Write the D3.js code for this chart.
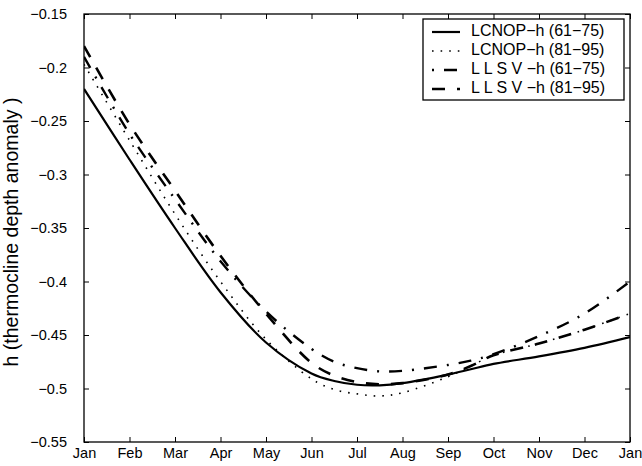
<!DOCTYPE html>
<html>
<head>
<meta charset="utf-8">
<script src="https://cdn.jsdelivr.net/npm/d3@7"></script>
<style>
  html, body { margin: 0; padding: 0; background: #fff; }
  svg { display: block; }
  text { font-family: "Liberation Sans", Arial, Helvetica, sans-serif; fill: #000; }
</style>
</head>
<body>
<svg id="chart" width="642" height="466"></svg>
<script>
// ---- data ----
const monthLabels = ["Jan","Feb","Mar","Apr","May","Jun","Jul","Aug","Sep","Oct","Nov","Dec","Jan"];
const yTickValues = [-0.55,-0.5,-0.45,-0.4,-0.35,-0.3,-0.25,-0.2,-0.15];
const yTickLabels = ["\u22120.55","\u22120.5","\u22120.45","\u22120.4","\u22120.35","\u22120.3","\u22120.25","\u22120.2","\u22120.15"];
// sample positions in months after January
const monthPos = [0,1,2,3,4,5,5.5,6,6.5,7,8,8.5,9,10,11,12];
const lcnop6175 = [-0.220,-0.286,-0.350,-0.410,-0.457,-0.486,-0.493,-0.4965,-0.497,-0.495,-0.487,-0.482,-0.477,-0.470,-0.462,-0.452];
const lcnop8195 = [-0.197,-0.268,-0.337,-0.400,-0.454,-0.491,-0.501,-0.505,-0.507,-0.504,-0.489,-0.479,-0.469,-0.458,-0.445,-0.430];
const llsv6175  = [-0.190,-0.262,-0.323,-0.381,-0.428,-0.463,-0.475,-0.481,-0.484,-0.4835,-0.478,-0.474,-0.468,-0.451,-0.430,-0.400];
const llsv8195  = [-0.180,-0.253,-0.315,-0.376,-0.430,-0.476,-0.488,-0.494,-0.496,-0.495,-0.487,-0.479,-0.469,-0.458,-0.445,-0.430];
const seriesNames = ["LCNOP\u2212h (61\u221275)","LCNOP\u2212h (81\u221295)","L L S V \u2212h (61\u221275)","L L S V \u2212h (81\u221295)"];

const seriesList = [
  {name: seriesNames[0], values: lcnop6175, dash: null, width: 2.2, legendOffset: 0},
  {name: seriesNames[1], values: lcnop8195, dash: "1.6,7", width: 1.6, legendOffset: 0},
  {name: seriesNames[2], values: llsv6175, dash: "13,10,2,10", width: 2.4, legendOffset: 23},
  {name: seriesNames[3], values: llsv8195, dash: "13,12", width: 2.6, legendOffset: 0}
];

// ---- layout ----
const svg = d3.select("#chart");
const pL = 84, pR = 630, pT = 14, pB = 442;
const x = d3.scaleLinear().domain([0, 12]).range([pL, pR]);
const y = d3.scaleLinear().domain([-0.55, -0.15]).range([pB, pT]);

const g = svg.append("g");

// frame
g.append("rect").attr("x", pL).attr("y", pT).attr("width", pR - pL).attr("height", pB - pT)
  .attr("fill", "none").attr("stroke", "#000").attr("stroke-width", 1.3);

// axes (ticks inward)
const xAxisB = d3.axisBottom(x).tickValues(d3.range(13)).tickFormat(i => monthLabels[i]).tickSizeInner(-5).tickSizeOuter(0).tickPadding(6);
const gx = g.append("g").attr("transform", `translate(0,${pB})`).call(xAxisB);
const xAxisT = d3.axisTop(x).tickValues(d3.range(13)).tickFormat("").tickSizeInner(-5).tickSizeOuter(0);
const gxt = g.append("g").attr("transform", `translate(0,${pT})`).call(xAxisT);

const yAxisL = d3.axisLeft(y).tickValues(yTickValues).tickFormat((d, i) => yTickLabels[i]).tickSizeInner(-5).tickSizeOuter(0).tickPadding(17);
const gy = g.append("g").attr("transform", `translate(${pL},0)`).call(yAxisL);
const yAxisR = d3.axisRight(y).tickValues(yTickValues).tickFormat("").tickSizeInner(-5).tickSizeOuter(0);
const gyr = g.append("g").attr("transform", `translate(${pR},0)`).call(yAxisR);

[gx, gxt, gy, gyr].forEach(a => {
  a.select(".domain").remove();
  a.selectAll(".tick line").attr("stroke", "#000").attr("stroke-width", 1);
  a.selectAll("text").attr("font-size", 14.5).attr("font-family", "Liberation Sans, Arial, sans-serif").attr("fill", "#000");
});

// y label
svg.append("text")
  .attr("transform", `translate(13,${(pT + pB) / 2 + 4}) rotate(-90)`)
  .attr("text-anchor", "middle").attr("dominant-baseline", "middle")
  .attr("font-size", 19.5)
  .text("h (thermocline depth anomaly )");

// lines
const line = d3.line().x(d => x(d[0])).y(d => y(d[1])).curve(d3.curveCatmullRom.alpha(0.5));
svg.append("clipPath").attr("id", "clip").append("rect")
  .attr("x", pL).attr("y", pT).attr("width", pR - pL).attr("height", pB - pT);

seriesList.forEach(s => {
  g.append("path")
    .datum(monthPos.map((m, i) => [m, s.values[i]]))
    .attr("d", line)
    .attr("fill", "none")
    .attr("stroke", "#000")
    .attr("stroke-width", s.width)
    .attr("stroke-dasharray", s.dash)
    .attr("clip-path", "url(#clip)");
});

// legend
const lg = svg.append("g");
const lx0 = 423, ly0 = 19, lw = 201, lh = 81;
lg.append("rect").attr("x", lx0).attr("y", ly0).attr("width", lw).attr("height", lh)
  .attr("fill", "#fff").attr("stroke", "#000").attr("stroke-width", 1.3);
seriesList.forEach((s, i) => {
  const yy = ly0 + 13 + i * 19;
  lg.append("line").attr("x1", lx0 + 9).attr("x2", lx0 + 37).attr("y1", yy).attr("y2", yy)
    .attr("stroke", "#000").attr("stroke-width", s.width)
    .attr("stroke-dasharray", s.dash).attr("stroke-dashoffset", s.legendOffset);
  lg.append("text").attr("x", lx0 + 48).attr("y", yy).attr("dominant-baseline", "middle")
    .attr("font-size", 16).text(s.name);
});
</script>
</body>
</html>
